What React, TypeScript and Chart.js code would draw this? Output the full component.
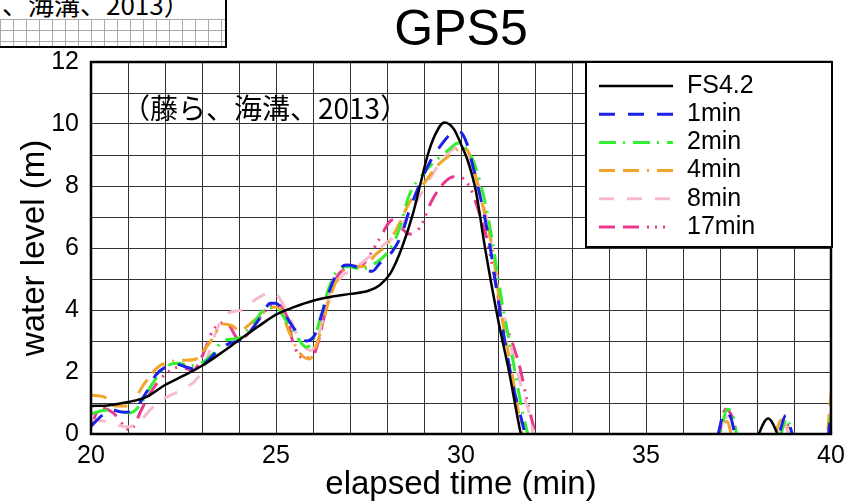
import React, { useEffect, useRef } from "react";
import { Chart, registerables } from "chart.js";

Chart.register(...registerables);

const chartTitle = "GPS5";
const xAxisTitle = "elapsed time (min)";
const yAxisTitle = "water level (m)";
const noteText = "（藤ら、海溝、2013）";
const clippedNote = "、海溝、2013）";
const xTickLabels = [20, 25, 30, 35, 40];
const yTickLabels = [0, 2, 4, 6, 8, 10, 12];
const seriesLabels = ["FS4.2", "1min", "2min", "4min", "8min", "17min"];

// [elapsed time (min), water level (m)]; negative values = dry (below axis, clipped)
const fs42: [number, number][] = [
  [20, 0.9], [20.5, 0.93], [21, 1.03], [21.5, 1.2], [22, 1.58], [22.5, 1.88], [23, 2.2], [23.5, 2.6],
  [24, 3.03], [24.5, 3.45], [25, 3.85], [25.5, 4.1], [26, 4.3], [26.5, 4.43], [27, 4.52], [27.5, 4.62],
  [27.8, 4.8], [28.1, 5.2], [28.4, 6.0], [28.7, 7.1], [28.9, 8.05], [29.1, 9.0], [29.3, 9.65],
  [29.55, 10.05], [29.8, 9.85], [30.0, 9.35], [30.2, 8.75], [30.4, 7.85], [30.65, 6.0], [31.0, 3.7],
  [31.3, 2.0], [31.6, 0.1], [31.7, -0.4], [37.95, -0.4], [38.05, 0], [38.3, 0.5], [38.55, 0],
  [38.65, -0.4], [40, -0.4],
];

const min1: [number, number][] = [
  [20, 0.25], [20.3, 0.6], [20.55, 0.77], [20.9, 0.7], [21.2, 0.83], [21.5, 1.35], [21.75, 1.9],
  [22.0, 2.15], [22.3, 2.25], [22.6, 2.15], [22.85, 2.08], [23.1, 2.3], [23.4, 2.65], [23.7, 2.9],
  [24.05, 3.03], [24.3, 3.3], [24.6, 3.8], [24.85, 4.22], [25.0, 4.22], [25.2, 3.95], [25.46, 3.45],
  [25.83, 3.0], [26.05, 3.2], [26.35, 4.3], [26.65, 5.2], [26.9, 5.45], [27.1, 5.42], [27.4, 5.25],
  [27.6, 5.25], [27.8, 5.5], [28.15, 5.9], [28.4, 6.45], [28.6, 7.2], [28.9, 8.1], [29.15, 8.75],
  [29.45, 9.3], [29.75, 9.7], [29.95, 9.75], [30.15, 9.4], [30.35, 8.5], [30.55, 7.5], [30.75, 6.3],
  [31.1, 3.6], [31.4, 1.6], [31.7, 0.15], [31.8, -0.4], [36.85, -0.4], [36.95, 0], [37.12, 0.7],
  [37.3, 0.5], [37.4, 0], [37.5, -0.4], [38.5, -0.4], [38.6, 0], [38.78, 0.6], [38.95, 0],
  [39.05, -0.4], [39.85, -0.4], [39.93, 0], [40, 0.7],
];

const min2: [number, number][] = [
  [20, 0.65], [20.4, 0.77], [20.7, 0.77], [21.05, 0.68], [21.3, 0.9], [21.65, 1.6], [22, 2.15],
  [22.35, 2.28], [22.7, 2.2], [23, 2.3], [23.3, 2.6], [23.55, 3.0], [24, 3.1], [24.4, 3.6],
  [24.75, 4.06], [25, 4.08], [25.25, 3.7], [25.5, 3.25], [25.83, 2.8], [26.05, 3.15], [26.37, 4.5],
  [26.64, 5.25], [26.95, 5.4], [27.3, 5.32], [27.6, 5.45], [28, 5.84], [28.3, 6.5], [28.6, 7.7],
  [28.98, 8.4], [29.35, 8.85], [29.7, 9.2], [29.9, 9.38], [30.05, 9.3], [30.3, 8.9], [30.5, 8.2],
  [30.7, 7.2], [30.85, 6.2], [31.1, 4.3], [31.4, 2.4], [31.68, 0.6], [31.8, 0], [31.85, -0.4],
  [36.9, -0.4], [37.0, 0], [37.2, 0.8], [37.35, 0.6], [37.45, 0], [37.55, -0.4], [38.55, -0.4],
  [38.65, 0], [38.8, 0.5], [38.95, 0], [39.05, -0.4], [39.85, -0.4], [39.94, 0], [40, 0.6],
];

const min4: [number, number][] = [
  [20, 1.25], [20.35, 1.2], [20.65, 0.9], [21, 0.9], [21.45, 1.64], [21.8, 2.15], [22.05, 2.3],
  [22.5, 2.38], [22.8, 2.4], [23.05, 2.7], [23.3, 3.1], [23.55, 3.55], [23.8, 3.5], [24, 3.35],
  [24.5, 3.75], [24.95, 4.1], [25.1, 4.05], [25.35, 3.3], [25.65, 2.6], [25.9, 2.42], [26.13, 3.0],
  [26.46, 4.42], [26.73, 5.15], [27.05, 5.42], [27.35, 5.4], [27.7, 5.8], [28, 6.1], [28.3, 6.7],
  [28.6, 7.45], [28.95, 8.0], [29.4, 8.7], [29.8, 9.08], [30.03, 9.25], [30.24, 9.0], [30.5, 7.8],
  [30.7, 6.8], [30.85, 6.0], [31.05, 4.2], [31.4, 1.8], [31.6, 0.35], [31.65, 0], [31.7, -0.4],
  [36.85, -0.4], [36.95, 0], [37.08, 0.35], [37.2, 0.4], [37.3, 0], [37.4, -0.4], [38.4, -0.4],
  [38.5, 0], [38.65, 0.45], [38.8, 0.4], [38.9, 0], [39.0, -0.4], [39.82, -0.4], [39.9, 0], [40, 1.3],
];

const min8: [number, number][] = [
  [20, 0.45], [20.3, 0.43], [20.65, 0.3], [21, 0.23], [21.35, 0.45], [21.65, 0.84], [22, 1.16],
  [22.55, 1.48], [22.9, 1.84], [23.15, 2.5], [23.45, 3.5], [23.75, 3.92], [24.1, 4.0], [24.4, 4.3],
  [24.85, 4.55], [25.05, 4.45], [25.35, 3.8], [25.65, 3.0], [25.95, 2.7], [26.2, 3.4], [26.45, 4.5],
  [26.75, 5.05], [27.05, 5.3], [27.35, 5.55], [27.8, 6.0], [28.25, 6.45], [28.6, 7.1], [28.98, 7.87],
  [29.35, 8.6], [29.7, 9.1], [29.9, 9.25], [30.15, 9.05], [30.43, 8.2], [30.65, 7.2], [30.85, 5.9],
  [31.24, 3.4], [31.68, 1.3], [31.86, 0.6], [31.95, 0], [32.0, -0.4], [36.9, -0.4], [37.0, 0],
  [37.15, 0.6], [37.3, 0], [37.4, -0.4], [38.45, -0.4], [38.55, 0], [38.7, 0.4], [38.85, 0],
  [38.95, -0.4], [39.85, -0.4], [39.93, 0], [40, 0.8],
];

const min17: [number, number][] = [
  [20, 0.25], [20.25, 0.85], [20.6, 0.68], [20.9, 0.25], [21.05, 0.13], [21.4, 0.87], [21.7, 1.5],
  [22.05, 1.97], [22.4, 2.16], [22.76, 2.06], [23, 2.5], [23.3, 3.35], [23.65, 3.6], [24, 3.05],
  [24.3, 3.3], [24.65, 3.9], [25, 4.2], [25.3, 3.77], [25.46, 2.95], [25.73, 2.45], [25.97, 2.48],
  [26.1, 2.8], [26.37, 4.1], [26.64, 5.05], [26.95, 5.35], [27.27, 5.4], [27.55, 5.8], [27.8, 6.3],
  [28.15, 6.9], [28.35, 6.7], [28.6, 6.45], [28.9, 6.68], [29.2, 7.5], [29.5, 8.05], [29.8, 8.3],
  [30.05, 8.25], [30.3, 7.8], [30.5, 7.1], [30.7, 6.3], [30.85, 5.4], [31.1, 3.9], [31.4, 2.9],
  [31.6, 2.1], [31.8, 1.0], [32, 0], [32.05, -0.4], [36.88, -0.4], [36.98, 0], [37.15, 0.8],
  [37.35, 0.5], [37.45, 0], [37.55, -0.4], [38.5, -0.4], [38.6, 0], [38.75, 0.45], [38.9, 0],
  [39.0, -0.4], [39.88, -0.4], [39.95, 0], [40, 0.5],
];

const seriesData = [fs42, min1, min2, min4, min8, min17];
const seriesColors = ["#000000", "#1a22e8", "#33ee33", "#f2a52a", "#f7bccb", "#e8388f"];
const seriesWidths = [2.5, 3, 3, 3, 3, 3];
const seriesDashes: number[][] = [
  [],
  [16, 13],
  [17, 7, 2, 8],
  [16, 8, 16, 8, 2, 8],
  [15, 13],
  [16, 8, 16, 8, 2, 6, 2, 6, 2, 8],
];

const SANS = '"Liberation Sans", Arial, sans-serif';
const CJK = '"Noto Sans CJK JP", sans-serif';

const overlayPlugin = {
  id: "overlay",
  afterDatasetsDraw(chart: any) {
    const { ctx, chartArea: a } = chart;
    ctx.save();
    // frame
    ctx.setLineDash([]);
    ctx.strokeStyle = "#000";
    ctx.lineWidth = 2.5;
    ctx.strokeRect(a.left, a.top, a.right - a.left, a.bottom - a.top);
    // annotation
    ctx.fillStyle = "#000";
    ctx.font = `28px ${CJK}`;
    ctx.textAlign = "left";
    ctx.textBaseline = "middle";
    ctx.fillText(noteText, a.left + 31, a.top + 46);
    // legend
    const lx = a.right - 245;
    const ly = a.top;
    const lw = 246;
    const lh = 185;
    ctx.fillStyle = "#fff";
    ctx.fillRect(lx, ly, lw, lh);
    ctx.lineWidth = 2;
    ctx.strokeStyle = "#000";
    ctx.strokeRect(lx, ly, lw, lh);
    chart.data.datasets.forEach((ds: any, i: number) => {
      const y = ly + 24 + i * 28.2;
      ctx.beginPath();
      ctx.setLineDash(ds.borderDash || []);
      ctx.strokeStyle = ds.borderColor;
      ctx.lineWidth = ds.borderWidth;
      ctx.moveTo(lx + 13, y);
      ctx.lineTo(lx + 87, y);
      ctx.stroke();
      ctx.setLineDash([]);
      ctx.fillStyle = "#000";
      ctx.font = `25px ${SANS}`;
      ctx.textAlign = "left";
      ctx.textBaseline = "middle";
      ctx.fillText(ds.label, lx + 101, y);
    });
    ctx.restore();
  },
};

export default function App() {
  const canvasRef = useRef<HTMLCanvasElement | null>(null);

  useEffect(() => {
    document.body.style.margin = "0";
    const canvas = canvasRef.current;
    if (!canvas) return;
    const chart = new Chart(canvas, {
      type: "line",
      data: {
        datasets: seriesData.map((pts, i) => ({
          label: seriesLabels[i],
          data: pts.map(([x, y]) => ({ x, y })),
          borderColor: seriesColors[i],
          backgroundColor: seriesColors[i],
          borderWidth: seriesWidths[i],
          borderDash: seriesDashes[i],
          pointRadius: 0,
          fill: false,
          cubicInterpolationMode: "monotone" as const,
        })),
      },
      options: {
        animation: false,
        responsive: false,
        events: [],
        layout: { padding: { left: 0, right: 30, top: 0, bottom: 0 } },
        plugins: {
          legend: { display: false },
          tooltip: { enabled: false },
          title: {
            display: true,
            text: chartTitle,
            fullSize: false,
            color: "#000",
            font: { size: 50, family: SANS, weight: "normal", lineHeight: 1.2 },
            padding: { top: 1, bottom: 1 },
          },
        },
        scales: {
          x: {
            type: "linear",
            min: 20,
            max: 40,
            afterFit: (s: any) => {
              s.height = 68;
            },
            grid: { color: "#333", lineWidth: 1, drawTicks: false },
            border: { display: false },
            ticks: {
              stepSize: 1,
              autoSkip: false,
              maxRotation: 0,
              padding: 7,
              color: "#000",
              font: { size: 25, family: SANS },
              callback: (v: any) => (xTickLabels.includes(Number(v)) ? String(v) : ""),
            },
            title: {
              display: true,
              text: xAxisTitle,
              color: "#000",
              font: { size: 33, family: SANS, lineHeight: 1 },
              padding: { top: 0, bottom: 1 },
            },
          },
          y: {
            type: "linear",
            min: 0,
            max: 12,
            afterFit: (s: any) => {
              s.width = 91;
            },
            grid: { color: "#333", lineWidth: 1, drawTicks: false },
            border: { display: false },
            ticks: {
              stepSize: 1,
              autoSkip: false,
              padding: 12,
              color: "#000",
              font: { size: 25, family: SANS },
              callback: (v: any) => (yTickLabels.includes(Number(v)) ? String(v) : ""),
            },
            title: {
              display: true,
              text: yAxisTitle,
              color: "#000",
              font: { size: 33, family: SANS, lineHeight: 1 },
              padding: { top: 18, bottom: 0 },
            },
          },
        },
      },
      plugins: [overlayPlugin],
    });
    return () => chart.destroy();
  }, []);

  return (
    <div style={{ position: "relative", width: 861, height: 502, overflow: "hidden", background: "#fff" }}>
      <canvas ref={canvasRef} width={861} height={502} style={{ display: "block" }} />
      <div
        style={{
          position: "absolute",
          left: 0,
          top: 0,
          width: 225,
          height: 46,
          borderRight: "2px solid #000",
          borderBottom: "2px solid #000",
          background: "#fff",
          overflow: "hidden",
        }}
      >
        <div
          style={{
            position: "absolute",
            left: 0,
            right: 0,
            top: 19,
            bottom: 0,
            backgroundImage:
              "linear-gradient(to right, #aaa 1px, transparent 1px), linear-gradient(to bottom, #aaa 1px, transparent 1px)",
            backgroundSize: "13px 11px",
          }}
        />
        <div
          style={{
            position: "absolute",
            left: 2,
            top: -11,
            fontFamily: CJK,
            fontSize: 26,
            lineHeight: "30px",
            whiteSpace: "nowrap",
            color: "#000",
          }}
        >
          {clippedNote}
        </div>
      </div>
    </div>
  );
}
